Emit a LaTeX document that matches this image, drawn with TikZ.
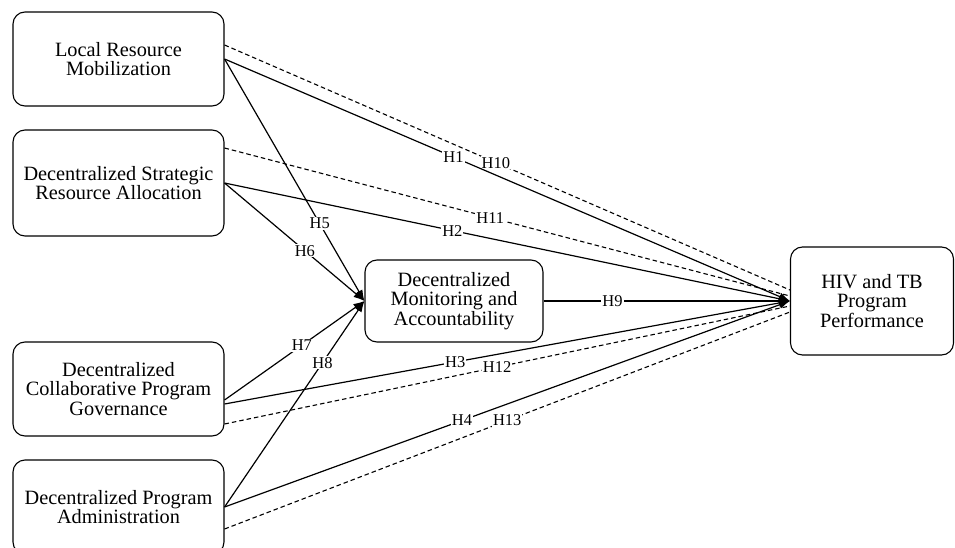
\documentclass[tikz,border=0pt]{standalone}
\usepackage{fontspec}
\setmainfont{Liberation Serif}
\usetikzlibrary{arrows.meta,calc}
\begin{document}
\begin{tikzpicture}[x=1pt,y=-1pt,
  box/.style={draw,rounded corners=12pt,line width=1.1pt,align=center,inner sep=0pt,
    font=\fontsize{20.3}{19.6}\selectfont},
  solidpath/.style={line width=1.2pt,-{Latex[length=11pt,width=8pt]}},
  altpath/.style={line width=1.1pt,dash pattern=on 4.5pt off 3pt},
  hl/.style={fill=white,inner sep=1pt,font=\fontsize{16.5}{16.5}\selectfont}]
\clip (0,0) rectangle (955,548);
\fill[white] (0,0) rectangle (955,548);
% boxes
\node[box,minimum width=211pt,minimum height=94pt] (lrm) at (118.5,59) {Local Resource\\Mobilization};
\node[box,minimum width=211pt,minimum height=106pt] (dsra) at (118.5,183) {Decentralized Strategic\\Resource Allocation};
\node[box,minimum width=211pt,minimum height=94pt] (dcpg) at (118.5,389) {Decentralized\\Collaborative Program\\Governance};
\node[box,minimum width=211pt,minimum height=94pt] (dpa) at (118.5,507) {Decentralized Program\\Administration};
\node[box,minimum width=178pt,minimum height=82pt] (dma) at (454,301) {Decentralized\\Monitoring and\\Accountability};
\node[box,minimum width=163pt,minimum height=108pt] (perf) at (872,301) {HIV and TB\\Program\\Performance};
% dashed paths
\draw[altpath] ($(lrm.east)+(0,-14)$) -- node[hl,pos=0.48]{H10} ($(perf.west)+(0,-11)$);
\draw[altpath] ($(dsra.east)+(0,-35)$) -- node[hl,pos=0.47]{H11} ($(perf.west)+(0,-5)$);
\draw[altpath] ($(dcpg.east)+(0,35)$) -- node[hl,pos=0.482]{H12} ($(perf.west)+(0,5)$);
\draw[altpath] ($(dpa.east)+(0,22)$) -- node[hl,pos=0.50]{H13} ($(perf.west)+(0,11)$);
% solid paths
\draw[solidpath] (lrm.east) -- node[hl,pos=0.405]{H1} (perf.west);
\draw[solidpath] (dsra.east) -- node[hl,pos=0.403]{H2} (perf.west);
\draw[solidpath] ($(dcpg.east)+(0,15)$) -- node[hl,pos=0.408]{H3} (perf.west);
\draw[solidpath] (dpa.east) -- node[hl,pos=0.42]{H4} (perf.west);
\draw[solidpath] (lrm.east) -- node[hl,pos=0.68]{H5} (dma.west);
\draw[solidpath] (dsra.east) -- node[hl,pos=0.574]{H6} (dma.west);
\draw[solidpath] ($(dcpg.east)+(0,11)$) -- node[hl,pos=0.553]{H7} (dma.west);
\draw[solidpath] (dpa.east) -- node[hl,pos=0.70]{H8} (dma.west);
\draw[solidpath] (dma.east) -- node[hl,pos=0.28]{H9} (perf.west);
\end{tikzpicture}
\end{document}
